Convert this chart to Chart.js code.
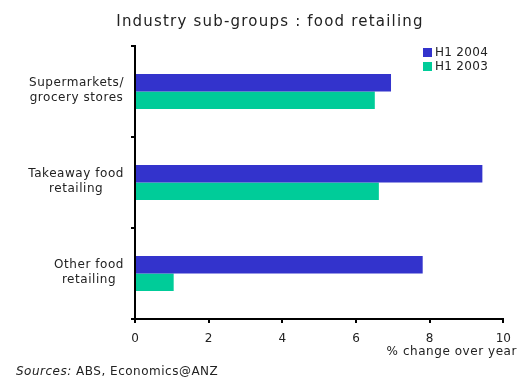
<!DOCTYPE html>
<html>
<head>
<meta charset="utf-8">
<script src="https://cdn.jsdelivr.net/npm/chart.js@4/dist/chart.umd.min.js"></script>
<style>
  html, body { margin: 0; padding: 0; background: #ffffff; }
  #wrap { width: 520px; height: 379px; position: relative; }
</style>
</head>
<body>
<div id="wrap"><canvas id="c" width="520" height="379"></canvas></div>
<script>
// Food retailing sub-groups, % change over year
const categories = [
  ["Supermarkets/", "grocery stores"],
  ["Takeaway food", "retailing"],
  ["Other food", "retailing"]
];
const seriesNames = ["H1 2004", "H1 2003"];
const h1_2004 = [6.95, 9.43, 7.81];
const h1_2003 = [6.51, 6.62, 1.05];
const xTicks = [0, 2, 4, 6, 8, 10];

const FONT = "'DejaVu Sans', Verdana, sans-serif";
const TEXT = "#222222";
const COLORS = ["#3333CC", "#00CC99"];

// Title, legend, category labels, axis caption and source line
const decorations = {
  id: "decorations",
  afterDraw(chart) {
    const ctx = chart.ctx;
    const area = chart.chartArea;
    const yScale = chart.scales.y;
    ctx.save();
    ctx.fillStyle = TEXT;

    // title
    ctx.font = "15px " + FONT;
    ctx.letterSpacing = "1.2px";
    ctx.textAlign = "center";
    ctx.textBaseline = "middle";
    ctx.fillText("Industry sub-groups : food retailing", 270, 22);

    // legend
    ctx.font = "12px " + FONT;
    ctx.letterSpacing = "0.3px";
    ctx.textAlign = "left";
    chart.data.datasets.forEach((ds, i) => {
      const y = 52.5 + i * 14;
      ctx.fillStyle = ds.backgroundColor;
      ctx.fillRect(423, y - 4.5, 9, 9);
      ctx.fillStyle = TEXT;
      ctx.fillText(ds.label, 435, y + 0.5);
    });

    // category labels: lines centred within a right-aligned block
    ctx.font = "12px " + FONT;
    ctx.letterSpacing = "0.55px";
    ctx.textAlign = "center";
    const rightEdge = area.left - 11;
    const lh = 15;
    chart.data.labels.forEach((lab, i) => {
      const lines = Array.isArray(lab) ? lab : [lab];
      const w = Math.max(...lines.map(l => ctx.measureText(l).width));
      const cx = rightEdge - w / 2;
      const cy = yScale.getPixelForValue(i);
      const y0 = cy - (lines.length - 1) * lh / 2 - 1;
      lines.forEach((l, k) => ctx.fillText(l, cx, y0 + k * lh));
    });

    // x-axis caption
    ctx.textAlign = "right";
    ctx.letterSpacing = "0.55px";
    ctx.fillText("% change over year", 517, 352);

    // source line
    ctx.textAlign = "left";
    ctx.letterSpacing = "0.5px";
    ctx.font = "italic 12px " + FONT;
    const src = "Sources:";
    ctx.fillText(src, 16, 372);
    const sw = ctx.measureText(src).width;
    ctx.font = "12px " + FONT;
    ctx.fillText(" ABS, Economics@ANZ", 16 + sw, 372);
    ctx.restore();
  }
};

new Chart(document.getElementById("c"), {
  type: "bar",
  data: {
    labels: categories,
    datasets: [
      { label: seriesNames[0], data: h1_2004, backgroundColor: COLORS[0] },
      { label: seriesNames[1], data: h1_2003, backgroundColor: COLORS[1] }
    ]
  },
  options: {
    indexAxis: "y",
    responsive: false,
    animation: false,
    events: [],
    layout: { padding: { top: 46, right: 15, left: 0, bottom: 0 } },
    datasets: { bar: { categoryPercentage: 0.385, barPercentage: 1.0, borderWidth: 0 } },
    plugins: {
      legend: { display: false },
      title: { display: false },
      tooltip: { enabled: false }
    },
    scales: {
      x: {
        type: "linear",
        min: 0,
        max: 10,
        afterBuildTicks(scale) { scale.ticks = xTicks.map(v => ({ value: v })); },
        afterFit(scale) { scale.height = 60; },
        grid: {
          drawOnChartArea: false,
          drawTicks: true,
          tickLength: 4,
          color: "#000000",
          lineWidth: 2
        },
        border: { display: true, color: "#000000", width: 2 },
        ticks: {
          color: TEXT,
          font: { family: FONT, size: 12 },
          padding: 9,
          maxRotation: 0
        }
      },
      y: {
        type: "category",
        offset: true,
        afterFit(scale) { scale.width = 135; },
        grid: {
          offset: true,
          drawOnChartArea: false,
          drawTicks: true,
          tickLength: 4,
          color: "#000000",
          lineWidth: 2
        },
        border: { display: true, color: "#000000", width: 2 },
        ticks: { display: false }
      }
    }
  },
  plugins: [decorations]
});
</script>
</body>
</html>
